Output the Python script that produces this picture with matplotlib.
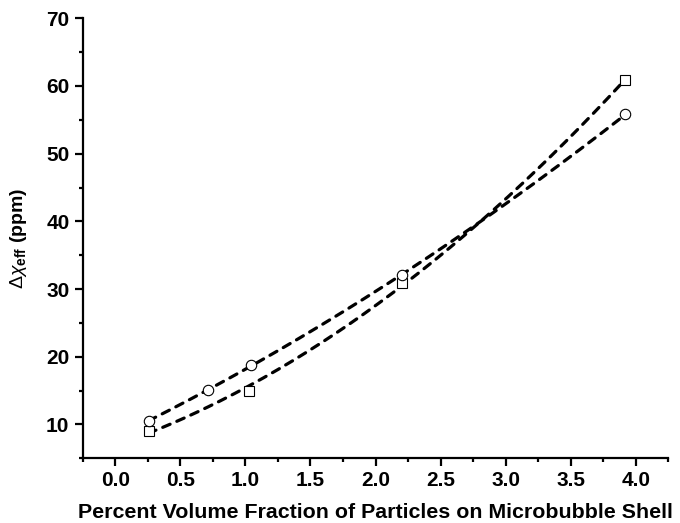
import numpy as np
import matplotlib
matplotlib.use("Agg")
from matplotlib import pyplot as plt
from matplotlib.ticker import MultipleLocator, FormatStrFormatter

matplotlib.rcParams.update({'font.family': 'Liberation Sans',
                            'mathtext.fontset': 'custom',
                            'mathtext.rm': 'Liberation Sans',
                            'mathtext.bf': 'Liberation Sans:bold',
                            'mathtext.it': 'Liberation Sans:italic'})

# -----------------------------------------------------------#
# Data
# -----------------------------------------------------------#
circ_x = [0.256, 0.712, 1.042, 2.20, 3.92]
circ_y = [10.5, 15.07, 18.76, 32.05, 55.8]

sq_x = [0.256, 1.024, 2.20, 3.92]
sq_y = [9.05, 14.96, 30.9, 60.9]

# -----------------------------------------------------------#
# Second order fits of each series
# -----------------------------------------------------------#
pc = np.polyfit(circ_x, circ_y, 2)
ps = np.polyfit(sq_x, sq_y, 2)
xc = np.linspace(min(circ_x), max(circ_x), 200)
xs = np.linspace(min(sq_x), max(sq_x), 200)

fig = plt.figure(figsize=(6.8, 5.23), dpi=100)
ax = fig.add_axes([0.1216, 0.1237, 0.983 - 0.1216, 0.965 - 0.1237])

ax.plot(xs, np.polyval(ps, xs), color='black', linewidth=2.3,
        dashes=(2.5, 2.3), dash_capstyle='round')
ax.plot(xc, np.polyval(pc, xc), color='black', linewidth=2.3,
        dashes=(2.5, 2.3), dash_capstyle='round')
ax.plot(sq_x, sq_y, 's', markersize=6.5, markerfacecolor='white',
        markeredgecolor='black', markeredgewidth=0.8)
ax.plot(circ_x, circ_y, 'o', markersize=7.5, markerfacecolor='white',
        markeredgecolor='black', markeredgewidth=0.8)

ax.set_xlim(-0.25, 4.25)
ax.set_ylim(5, 70)
ax.xaxis.set_major_locator(MultipleLocator(0.5))
ax.xaxis.set_minor_locator(MultipleLocator(0.25))
ax.yaxis.set_major_locator(MultipleLocator(10))
ax.yaxis.set_minor_locator(MultipleLocator(5))
ax.xaxis.set_major_formatter(FormatStrFormatter('%.1f'))
ax.yaxis.set_major_formatter(FormatStrFormatter('%d'))

for s in ['top', 'right']:
    ax.spines[s].set_visible(False)
for s in ['left', 'bottom']:
    ax.spines[s].set_linewidth(1.6)

ax.tick_params(which='major', direction='out', length=6, width=1.6,
               labelsize=15, pad=3.5)
ax.tick_params(which='minor', direction='out', length=3.2, width=1.6)
for lab in ax.get_xticklabels() + ax.get_yticklabels():
    lab.set_fontweight('bold')

ax.set_xlabel("Percent Volume Fraction of Particles on Microbubble Shell",
              fontsize=15.4, fontweight='bold', labelpad=9)
ax.set_ylabel(r"$\Delta\chi_{\mathbf{eff}}$ (ppm)", fontsize=14,
              fontweight='bold', labelpad=12)

fig.savefig("out.png", dpi=100)
